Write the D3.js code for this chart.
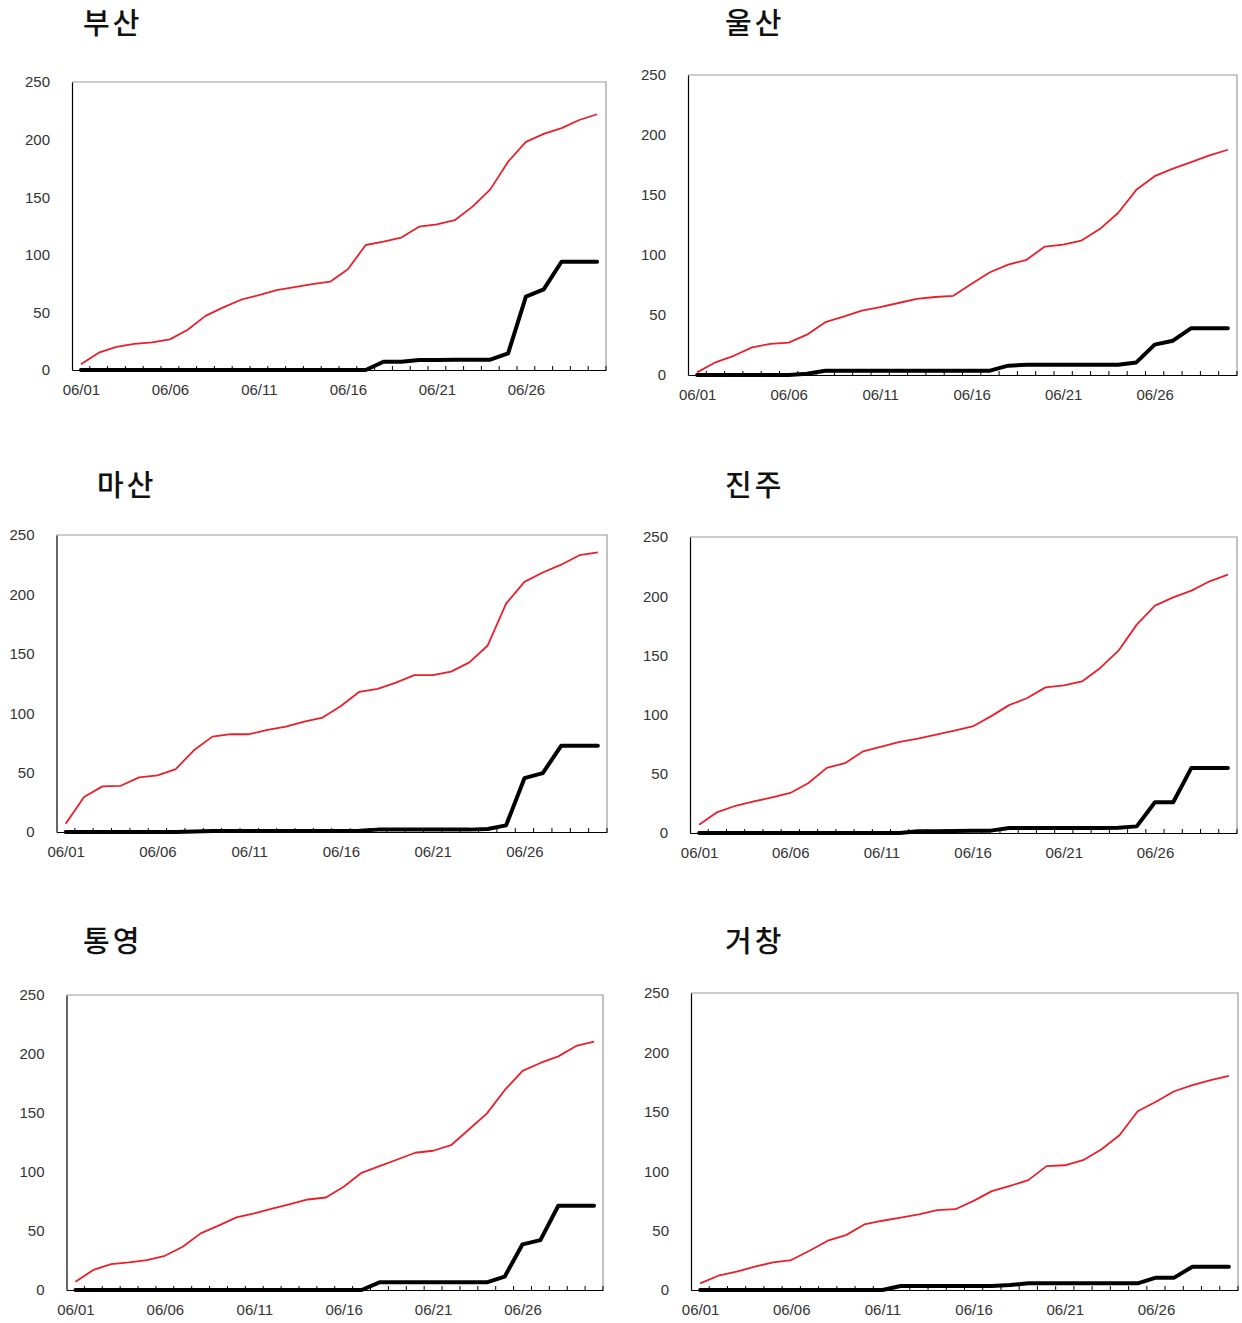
<!DOCTYPE html>
<html>
<head>
<meta charset="utf-8">
<script src="https://cdn.jsdelivr.net/npm/d3@7"></script>
<style>
  body { margin: 0; background: #fff; }
  svg { display: block; }
</style>
</head>
<body>
<svg id="chart" width="1242" height="1323"></svg>
<script>
// ---------- data ----------
const days = d3.range(1, 31);
const dayLabels = days.map(d => "06/" + String(d).padStart(2, "0"));
const labelDays = ["06/01", "06/06", "06/11", "06/16", "06/21", "06/26"];
const yTicks = [0, 50, 100, 150, 200, 250];
const stations = ["부산", "울산", "마산", "진주", "통영", "거창"];

const busanRed   = [5, 15, 20, 22.6, 24, 26.6, 35, 47, 54.4, 61, 65, 69.4, 72, 74.6, 76.7, 87.4, 108.5, 111.4, 115, 124.4, 126.4, 130, 141.8, 156.8, 180.8, 198, 205, 210, 217, 222];
const busanBlack = [0, 0, 0, 0, 0, 0, 0, 0, 0, 0, 0, 0, 0, 0, 0, 0, 0, 7.2, 7.2, 8.7, 8.7, 9, 9, 9, 14.5, 63.7, 70, 94, 94, 94];
const ulsanRed   = [2.2, 10.6, 16, 23, 26, 27, 33.6, 44, 48.7, 53.7, 56.5, 60, 63.4, 65, 66, 76, 85.6, 92, 96, 107, 108.7, 112, 121.6, 135, 154.3, 165.7, 172, 177.4, 183, 187.7];
const ulsanBlack = [0, 0, 0, 0, 0, 0, 1, 3.6, 3.6, 3.6, 3.6, 3.6, 3.6, 3.6, 3.6, 3.6, 3.6, 7.8, 8.6, 8.6, 8.6, 8.6, 8.6, 8.6, 10.5, 25.3, 28.6, 39, 39, 39];
const masanRed   = [7, 29.4, 38.4, 38.9, 46, 47.6, 53, 69, 80.3, 82.3, 82.3, 86, 88.7, 93, 96.3, 106, 118, 120.4, 125.7, 132, 132, 135, 142.8, 157, 192.3, 210.5, 218.4, 225, 233, 235.4];
const masanBlack = [0, 0, 0, 0, 0, 0, 0, 0.5, 0.8, 0.8, 0.8, 0.8, 0.8, 0.8, 0.8, 0.8, 1, 2, 2, 2, 2, 2, 2, 2.5, 5.6, 45.3, 49.6, 72.5, 72.5, 72.5];
const jinjuRed   = [7, 17.7, 23, 26.7, 30, 33.8, 42.2, 55, 59, 69, 73, 77, 79.7, 83, 86.4, 90, 98.5, 108, 114, 123, 124.7, 128, 139.4, 154, 176, 192, 199, 204.7, 212.6, 218.2];
const jinjuBlack = [0, 0, 0, 0, 0, 0, 0, 0, 0, 0, 0, 0, 1.4, 1.5, 1.6, 1.8, 2, 4.2, 4.2, 4.2, 4.2, 4.2, 4.2, 4.4, 5.6, 26, 26, 55, 55, 55];
const tongyeongRed   = [7, 17, 22, 23.4, 25.4, 29, 36.7, 48, 54.5, 61.5, 65, 69, 72.8, 76.7, 78.4, 87.5, 99.3, 105, 110.6, 116.3, 118, 122.7, 136, 149.5, 169.3, 185.7, 192.4, 198, 206.8, 210.5];
const tongyeongBlack = [0, 0, 0, 0, 0, 0, 0, 0, 0, 0, 0, 0, 0, 0, 0, 0, 0, 6.5, 6.5, 6.5, 6.5, 6.5, 6.5, 6.5, 11.3, 38.7, 42.3, 71.4, 71.4, 71.4];
const geochangRed   = [5.6, 12, 15.4, 19.6, 23.3, 25.2, 33, 41.5, 46.2, 55.2, 58.3, 61, 63.6, 67.3, 68, 75, 83.2, 87.7, 92.5, 104.3, 105, 109.3, 118.3, 130.3, 150.5, 158.4, 167.3, 172.4, 176.6, 180.2];
const geochangBlack = [0, 0, 0, 0, 0, 0, 0, 0, 0, 0, 0, 3.4, 3.4, 3.4, 3.4, 3.4, 3.4, 4.2, 5.6, 5.6, 5.6, 5.6, 5.6, 5.6, 5.6, 10.4, 10.4, 19.6, 19.6, 19.6];

const redSeries   = [busanRed, ulsanRed, masanRed, jinjuRed, tongyeongRed, geochangRed];
const blackSeries = [busanBlack, ulsanBlack, masanBlack, jinjuBlack, tongyeongBlack, geochangBlack];

// ---------- layout ----------
const layout = [
  { left: 72,  right: 606,  top: 82,  bottom: 370,  tx: 83,  ty: 34 },
  { left: 688, right: 1237, top: 75,  bottom: 375,  tx: 725, ty: 34 },
  { left: 56.5, right: 607, top: 535, bottom: 832,  tx: 97,  ty: 496 },
  { left: 690, right: 1237, top: 537, bottom: 833,  tx: 725, ty: 496 },
  { left: 66.5, right: 603, top: 995, bottom: 1290, tx: 83,  ty: 952 },
  { left: 691, right: 1238, top: 993, bottom: 1290, tx: 725, ty: 952 }
];

const svg = d3.select("#chart");
const labelFont = "'Liberation Sans', Arial, sans-serif";

stations.forEach((name, i) => {
  const L = layout[i];
  const g = svg.append("g");

  const x = d3.scalePoint().domain(dayLabels).range([L.left, L.right]).padding(0.5);
  const y = d3.scaleLinear().domain([0, 250]).range([L.bottom, L.top]);

  // title
  g.append("text")
    .attr("x", L.tx).attr("y", L.ty)
    .attr("font-family", "'Noto Sans CJK KR', sans-serif")
    .attr("font-weight", 500)
    .attr("font-size", 29)
    .attr("letter-spacing", 3)
    .attr("fill", "#111")
    .text(name);

  // plot border (top/right grey)
  g.append("path")
    .attr("d", `M${L.left},${L.top}H${L.right}V${L.bottom}`)
    .attr("fill", "none").attr("stroke", "#9a9a9a").attr("stroke-width", 1.2);

  // y axis
  const ya = g.append("g")
    .attr("transform", `translate(${L.left},0)`)
    .call(d3.axisLeft(y).tickValues(yTicks).tickSize(0).tickPadding(22));
  ya.select(".domain").attr("stroke", "#000").attr("stroke-width", 1.2);
  ya.selectAll("text").attr("font-family", labelFont).attr("font-size", 15).attr("fill", "#333");

  // x axis
  const xa = g.append("g")
    .attr("transform", `translate(0,${L.bottom})`)
    .call(d3.axisBottom(x).tickValues(labelDays).tickSize(0).tickPadding(14));
  xa.select(".domain").attr("stroke", "#000").attr("stroke-width", 1.2);
  xa.selectAll("text").attr("font-family", labelFont).attr("font-size", 15).attr("fill", "#333");

  // minor ticks between categories (pointing up inside plot)
  const step = x.step();
  g.append("g").selectAll("line")
    .data(dayLabels)
    .join("line")
    .attr("x1", d => x(d) + step / 2).attr("x2", d => x(d) + step / 2)
    .attr("y1", L.bottom).attr("y2", L.bottom - 4)
    .attr("stroke", "#000").attr("stroke-width", 1);

  const line = d3.line()
    .x((d, j) => x(dayLabels[j]))
    .y(d => y(d));

  g.append("path")
    .datum(redSeries[i])
    .attr("d", line)
    .attr("fill", "none")
    .attr("stroke", "#e8202a")
    .attr("stroke-width", 1.8)
    .attr("stroke-linejoin", "round");

  g.append("path")
    .datum(blackSeries[i])
    .attr("d", line)
    .attr("fill", "none")
    .attr("stroke", "#000")
    .attr("stroke-width", 4)
    .attr("stroke-linejoin", "round")
    .attr("stroke-linecap", "round");
});
</script>
</body>
</html>
